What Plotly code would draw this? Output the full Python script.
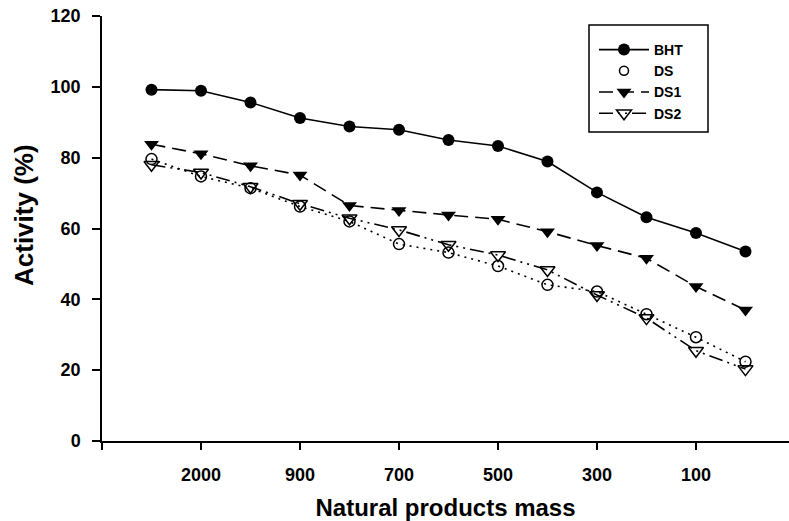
import plotly.graph_objects as go

# Sample order along the x axis (positions 1..13)
positions = list(range(1, 14))

# Labelled ticks on the mass axis
tick_positions = [0, 2, 4, 6, 8, 10, 12]
tick_labels = ["", "2000", "900", "700", "500", "300", "100"]

# Activity (%) for each sample
bht = [99.2, 98.9, 95.6, 91.2, 88.8, 87.9, 85.0, 83.3, 78.9, 70.2, 63.2, 58.7, 53.5]
ds = [79.6, 74.7, 71.4, 66.2, 62.0, 55.6, 53.2, 49.4, 44.1, 42.2, 35.8, 29.3, 22.4]
ds1 = [83.8, 81.1, 77.7, 75.1, 66.5, 65.1, 63.8, 62.6, 59.1, 55.2, 51.6, 43.6, 37.0]
ds2 = [78.0, 75.8, 71.8, 67.0, 62.9, 59.6, 55.4, 52.5, 48.3, 41.2, 34.7, 25.5, 20.3]

font_family = "Liberation Sans, Arial, sans-serif"

# plot-area geometry in pixels, used to place the legend frame and y title
W, H = 789, 521
ML, MR, MT, MB = 102, 0, 16, 80
PW, PH = W - ML - MR, H - MT - MB


def px_x(px):
    return (px - ML) / PW


def px_y(py):
    return (H - MB - py) / PH


fig = go.Figure()

fig.add_trace(go.Scatter(
    x=positions, y=bht, name="BHT", mode="lines+markers",
    line=dict(color="black", width=1.6, dash="solid"),
    marker=dict(symbol="circle", size=12, color="black"),
))
# DS: dotted connecting line, legend entry shows the marker only
fig.add_trace(go.Scatter(
    x=positions, y=ds, name="DS", mode="lines+markers", showlegend=False,
    line=dict(color="black", width=1.6, dash="2px,5px"),
    marker=dict(symbol="circle-open", size=11, color="black", line=dict(width=1.5)),
))
fig.add_trace(go.Scatter(
    x=[None], y=[None], name="DS", mode="markers",
    marker=dict(symbol="circle-open", size=9, color="black", line=dict(width=1.5)),
))
fig.add_trace(go.Scatter(
    x=positions, y=ds1, name="DS1", mode="lines+markers",
    line=dict(color="black", width=1.6, dash="14px,7px"),
    marker=dict(symbol="triangle-down", size=13, color="black"),
))
fig.add_trace(go.Scatter(
    x=positions, y=ds2, name="DS2", mode="lines+markers",
    line=dict(color="black", width=1.6, dash="14px,5px,2px,5px,2px,5px"),
    marker=dict(symbol="triangle-down-open", size=13, color="black", line=dict(width=1.5)),
))

# legend frame
fig.add_shape(
    type="rect", xref="paper", yref="paper",
    x0=px_x(589), x1=px_x(708), y0=px_y(132), y1=px_y(25),
    line=dict(color="black", width=1.5), fillcolor="rgba(0,0,0,0)",
)

# y-axis title
fig.add_annotation(
    text="Activity (%)", xref="paper", yref="paper",
    x=px_x(24), y=px_y(215), xanchor="center", yanchor="middle",
    textangle=-90, showarrow=False,
    font=dict(size=26, family=font_family, weight="bold", color="black"),
)

fig.update_layout(
    width=W, height=H,
    margin=dict(l=ML, r=MR, t=MT, b=MB),
    paper_bgcolor="white", plot_bgcolor="white",
    font=dict(family=font_family, color="black"),
    legend=dict(
        x=px_x(594), y=px_y(34), xanchor="left", yanchor="top",
        borderwidth=0, bgcolor="rgba(0,0,0,0)",
        font=dict(size=14, family=font_family, weight="bold"),
        tracegroupgap=0, itemwidth=50,
    ),
    xaxis=dict(
        range=[0, 13.879], showgrid=False, zeroline=False,
        showline=True, linecolor="black", linewidth=2,
        tickmode="array", tickvals=tick_positions, ticktext=tick_labels,
        ticks="outside", ticklen=7, tickwidth=1.5, tickcolor="black",
        ticklabelstandoff=9,
        tickfont=dict(size=18, family=font_family, weight="bold"),
        title=dict(text="Natural products mass", standoff=16,
                   font=dict(size=24, family=font_family, weight="bold")),
    ),
    yaxis=dict(
        range=[0, 120], showgrid=False, zeroline=False,
        showline=True, linecolor="black", linewidth=1.5,
        tickmode="array", tickvals=[0, 20, 40, 60, 80, 100, 120],
        ticks="outside", ticklen=8, tickwidth=1.5, tickcolor="black",
        ticklabelstandoff=8,
        tickfont=dict(size=18, family=font_family, weight="bold"),
    ),
)

fig.write_html("out.html")
